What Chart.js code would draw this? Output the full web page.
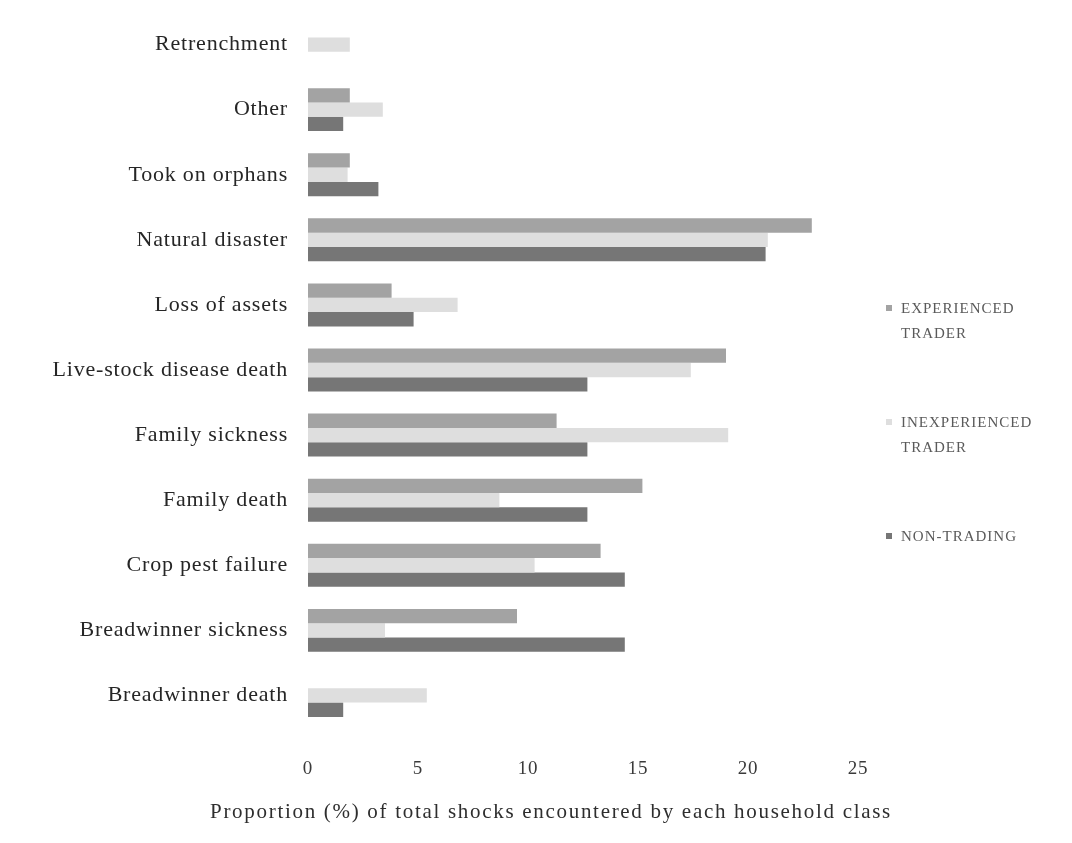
<!DOCTYPE html>
<html>
<head>
<meta charset="utf-8">
<style>
  html, body { margin: 0; padding: 0; background: #fff; }
  #wrap { width: 1072px; height: 843px; }
</style>
<script src="https://cdn.jsdelivr.net/npm/chart.js@4"></script>
</head>
<body>
<div id="wrap"><canvas id="shockChart" width="1072" height="843"></canvas></div>
<script>
// shock categories, top to bottom
const categories = [
  "Retrenchment",
  "Other",
  "Took on orphans",
  "Natural disaster",
  "Loss of assets",
  "Live-stock disease death",
  "Family sickness",
  "Family death",
  "Crop pest failure",
  "Breadwinner sickness",
  "Breadwinner death",
];

// % of total shocks per household class
const experienced = [0, 1.9, 1.9, 22.9, 3.8, 19.0, 11.3, 15.2, 13.3, 9.5, 0];
const inexperienced = [1.9, 3.4, 1.8, 20.9, 6.8, 17.4, 19.1, 8.7, 10.3, 3.5, 5.4];
const nonTrading = [0, 1.6, 3.2, 20.8, 4.8, 12.7, 12.7, 12.7, 14.4, 14.4, 1.6];

const xTicks = [0, 5, 10, 15, 20, 25];
const xTitle = "Proportion (%) of total shocks encountered by each household class";

const legendItems = [
  { lines: ["EXPERIENCED", "TRADER"], color: "#a3a3a3" },
  { lines: ["INEXPERIENCED", "TRADER"], color: "#dedede" },
  { lines: ["NON-TRADING"], color: "#767676" },
];

const serif = "'Liberation Serif', 'DejaVu Serif', serif";

// slightly spaced-out lettering for all chart text
const spacing = {
  id: "spacing",
  beforeInit(chart) {
    chart.ctx.letterSpacing = "0.8px";
  },
  beforeDraw(chart) {
    chart.ctx.letterSpacing = "0.8px";
  },
};

// axis title plus legend on the right with wrapped labels
const extras = {
  id: "extras",
  afterDraw(chart) {
    const ctx = chart.ctx;
    ctx.save();
    ctx.textBaseline = "middle";

    ctx.letterSpacing = "1.7px";
    ctx.font = "21px " + serif;
    ctx.fillStyle = "#2e2e2e";
    ctx.textAlign = "center";
    ctx.fillText(xTitle, chart.width / 2 + 15, 812);

    const tops = [309, 423, 537];
    ctx.letterSpacing = "1px";
    ctx.font = "15px " + serif;
    ctx.textAlign = "left";
    legendItems.forEach((item, i) => {
      const y = tops[i];
      ctx.fillStyle = item.color;
      ctx.fillRect(886, y - 4, 6, 6);
      ctx.fillStyle = "#5a5a5a";
      item.lines.forEach((line, j) => {
        ctx.fillText(line, 901, y + j * 25);
      });
    });
    ctx.restore();
  },
};

new Chart(document.getElementById("shockChart"), {
  type: "bar",
  data: {
    labels: categories,
    datasets: [
      { label: "EXPERIENCED TRADER", data: experienced, backgroundColor: legendItems[0].color },
      { label: "INEXPERIENCED TRADER", data: inexperienced, backgroundColor: legendItems[1].color },
      { label: "NON-TRADING", data: nonTrading, backgroundColor: legendItems[2].color },
    ],
  },
  options: {
    indexAxis: "y",
    responsive: false,
    animation: false,
    layout: { padding: { left: 0, right: 214, top: 12, bottom: 10 } },
    datasets: {
      bar: { categoryPercentage: 0.66, barPercentage: 1.0 },
    },
    plugins: {
      legend: { display: false },
      tooltip: { enabled: false },
    },
    scales: {
      x: {
        min: 0,
        max: 25,
        afterBuildTicks: (scale) => {
          scale.ticks = xTicks.map((v) => ({ value: v }));
        },
        afterFit: (scale) => {
          scale.height = 105;
        },
        grid: { display: false, drawTicks: false },
        border: { display: false },
        ticks: {
          padding: 30,
          color: "#3a3a3a",
          font: { family: serif, size: 19 },
        },
      },
      y: {
        afterFit: (scale) => {
          scale.width = 308;
          scale.paddingTop = 0;
          scale.paddingBottom = 0;
        },
        grid: { display: false, drawTicks: false },
        border: { display: false },
        ticks: {
          padding: 20,
          color: "#262626",
          font: { family: serif, size: 22 },
        },
      },
    },
  },
  plugins: [spacing, extras],
});
</script>
</body>
</html>
